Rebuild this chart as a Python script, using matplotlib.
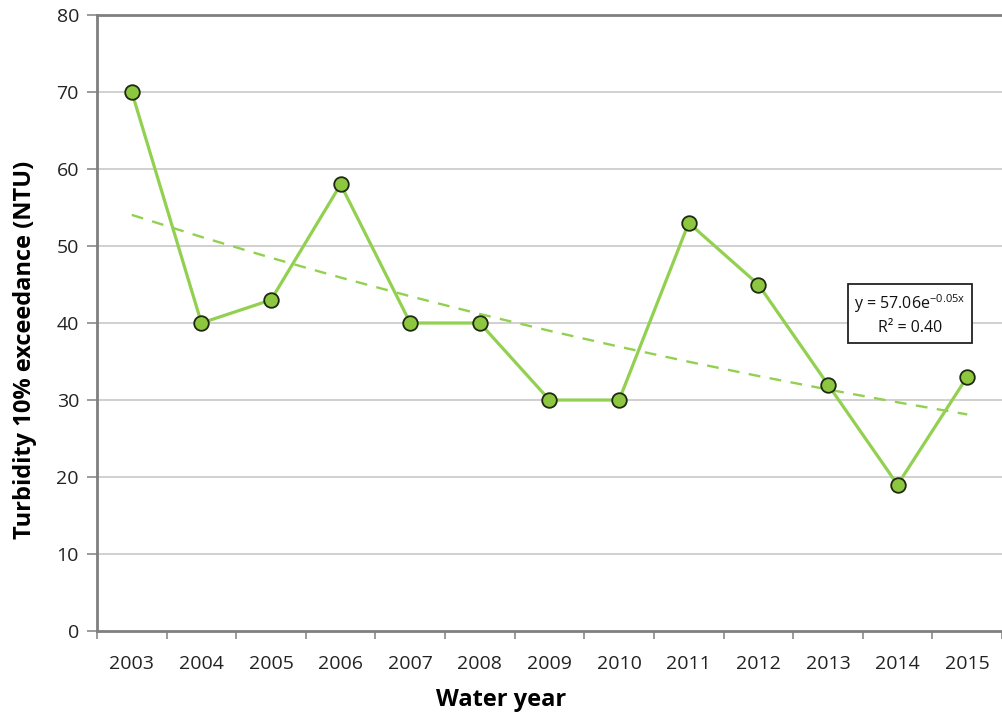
import numpy as np
import matplotlib
matplotlib.use("Agg")
import matplotlib.pyplot as plt

plt.rcParams['font.family'] = ['Open Sans', 'DejaVu Sans']

years = [2003, 2004, 2005, 2006, 2007, 2008, 2009, 2010, 2011, 2012, 2013, 2014, 2015]
turbidity = [70, 40, 43, 58, 40, 40, 30, 30, 53, 45, 32, 19, 33]
y_ticks = [0, 10, 20, 30, 40, 50, 60, 70, 80]

fig = plt.figure(figsize=(10.02, 7.21), dpi=100)
ax = fig.add_axes([0.0968, 0.1248, 0.9032, 0.8544])

xpos = np.arange(len(years))

# Exponential trend fitted on x = 1..n (spreadsheet convention)
xs = xpos + 1
b, ln_a = np.polyfit(xs, np.log(turbidity), 1)
a = np.exp(ln_a)
fit = a * np.exp(b * xs)
ln_pred = ln_a + b * xs
ln_y = np.log(turbidity)
r2 = 1 - np.sum((ln_y - ln_pred) ** 2) / np.sum((ln_y - ln_y.mean()) ** 2)

ax.plot(xpos, fit, color='#92D050', lw=1.7, ls=(0, (5, 4)), zorder=2)
ax.plot(xpos, turbidity, color='#92D050', lw=2.3, zorder=3,
        marker='o', markersize=10.5, markerfacecolor='#8DC63F',
        markeredgecolor='#1E2A10', markeredgewidth=1.3)

ax.set_xlim(-0.5, len(years) - 0.5)
ax.set_ylim(0, 80)
ax.set_yticks(y_ticks)
ax.set_yticklabels([str(v) for v in y_ticks], fontsize=14, color='#222222')
ax.set_xticks(xpos)
ax.set_xticklabels([str(y) for y in years], fontsize=14, color='#222222')
ax.set_xticks(np.arange(-0.5, len(years)), minor=True)
ax.tick_params(axis='x', which='major', length=0, pad=17)
ax.tick_params(axis='x', which='minor', length=6, width=1.2, color='#8A8A8A')
ax.tick_params(axis='y', length=7, width=1.2, color='#8A8A8A', pad=6)

for v in y_ticks[1:-1]:
    ax.axhline(v, color='#C8C8C8', lw=1.2, zorder=1)

for side in ['left', 'bottom', 'top']:
    ax.spines[side].set_color('#7F7F7F')
    ax.spines[side].set_linewidth(2.0)
ax.spines['right'].set_visible(False)

ax.set_ylabel('Turbidity 10% exceedance (NTU)', fontsize=17, fontweight='bold',
              va='center')
ax.yaxis.set_label_coords(-0.079, 0.456)
ax.set_xlabel('Water year', fontsize=17, fontweight='bold', va='center')
ax.xaxis.set_label_coords(0.446, -0.112)

label = (f"y = {a:.2f}e" + r"$^{\mathregular{" + f"{b:.2f}x" + r"}}$" +
         f"\nR² = {r2:.2f}")
ax.text(0.898, 0.514, label, transform=ax.transAxes, ha='center', va='center',
        fontsize=11.5, linespacing=1.45, color='#111111',
        bbox=dict(boxstyle='square,pad=0.4', facecolor='white',
                  edgecolor='#222222', lw=1.3), zorder=5)

fig.savefig('out.png', dpi=100)
